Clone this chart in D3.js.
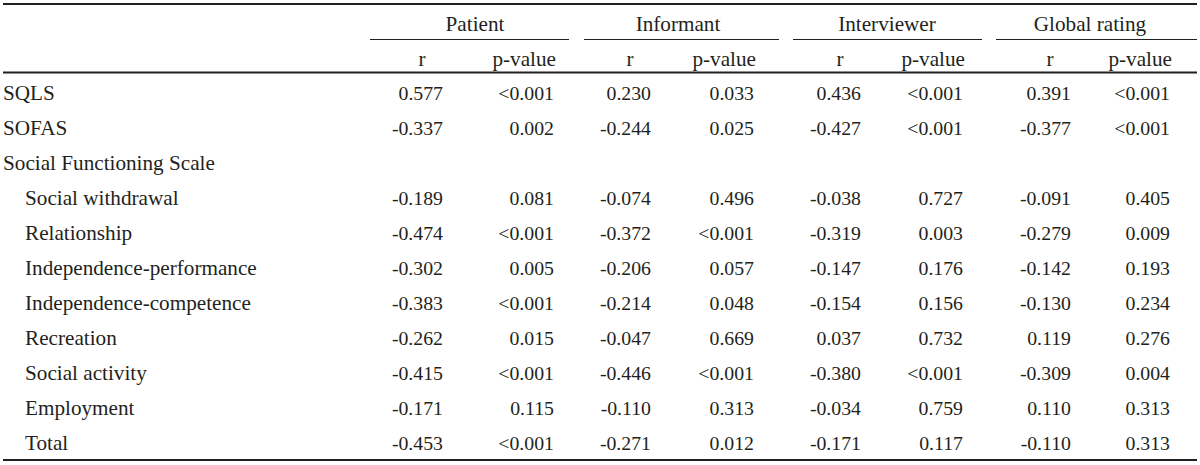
<!DOCTYPE html>
<html><head><meta charset="utf-8">
<script src="https://cdn.jsdelivr.net/npm/d3@7"></script>
<style>body{margin:0;background:#fff}svg{display:block}</style>
</head><body>
<script>
const groups = ["Patient","Informant","Interviewer","Global rating"];
const subHeaders = ["r","p-value"];
const rowLabels = ["SQLS","SOFAS","Social Functioning Scale","Social withdrawal","Relationship","Independence-performance","Independence-competence","Recreation","Social activity","Employment","Total"];
const rowIndent = [0,0,0,1,1,1,1,1,1,1,1];
const patientR = [0.577,-0.337,null,-0.189,-0.474,-0.302,-0.383,-0.262,-0.415,-0.171,-0.453];
const patientP = ["<0.001","0.002",null,"0.081","<0.001","0.005","<0.001","0.015","<0.001","0.115","<0.001"];
const informantR = [0.230,-0.244,null,-0.074,-0.372,-0.206,-0.214,-0.047,-0.446,-0.110,-0.271];
const informantP = ["0.033","0.025",null,"0.496","<0.001","0.057","0.048","0.669","<0.001","0.313","0.012"];
const interviewerR = [0.436,-0.427,null,-0.038,-0.319,-0.147,-0.154,0.037,-0.380,-0.034,-0.171];
const interviewerP = ["<0.001","<0.001",null,"0.727","0.003","0.176","0.156","0.732","<0.001","0.759","0.117"];
const globalR = [0.391,-0.377,null,-0.091,-0.279,-0.142,-0.130,0.119,-0.309,0.110,-0.110];
const globalP = ["<0.001","<0.001",null,"0.405","0.009","0.193","0.234","0.276","0.004","0.313","0.313"];

const W = 1200, H = 465;
const font = "'Liberation Serif', 'Times New Roman', serif";
const fsText = 21.2, fsNum = 19.8;
const ink = "#231f20";
const svg = d3.select("body").append("svg").attr("width", W).attr("height", H);

const colRight = [443,554,651,754,861,963,1071,1170];
const groupSpan = [[370,569],[584,779],[793,982],[996,1197]];
const groupCenter = [475,678,887,1090];
const y = d3.scaleLinear().domain([0, rowLabels.length-1]).range([100, 450]);
const fmt = v => d3.format(".3f")(v).replace("\u2212","-");

const rule = (x1,x2,yy,w) => svg.append("line").attr("x1",x1).attr("x2",x2).attr("y1",yy).attr("y2",yy).attr("stroke",ink).attr("stroke-width",w);
rule(3,1197,4,2);
rule(3,1197,72.5,2);
rule(3,1197,460,2);
groupSpan.forEach(s => rule(s[0],s[1],39.5,1));

const txt = (x,yy,t,anchor,size) => svg.append("text").attr("x",x).attr("y",yy).attr("text-anchor",anchor)
  .attr("font-family",font).attr("font-size",size).attr("fill",ink).text(t);

groups.forEach((g,i) => txt(groupCenter[i],31,g,"middle",fsText));
groups.forEach((g,i) => {
  txt(colRight[2*i]-21,66,subHeaders[0],"middle",fsText);
  txt(colRight[2*i+1]+2,66,subHeaders[1],"end",fsText);
});

rowLabels.forEach((l,i) => txt(rowIndent[i] ? 25 : 3, y(i), l, "start", fsText));

const rCols = [patientR, informantR, interviewerR, globalR];
const pCols = [patientP, informantP, interviewerP, globalP];
rCols.forEach((col,g) => col.forEach((v,i) => { if (v!==null) txt(colRight[2*g], y(i), fmt(v), "end", fsNum); }));
pCols.forEach((col,g) => col.forEach((v,i) => { if (v!==null) txt(colRight[2*g+1], y(i), v, "end", fsNum); }));
</script>
</body></html>
